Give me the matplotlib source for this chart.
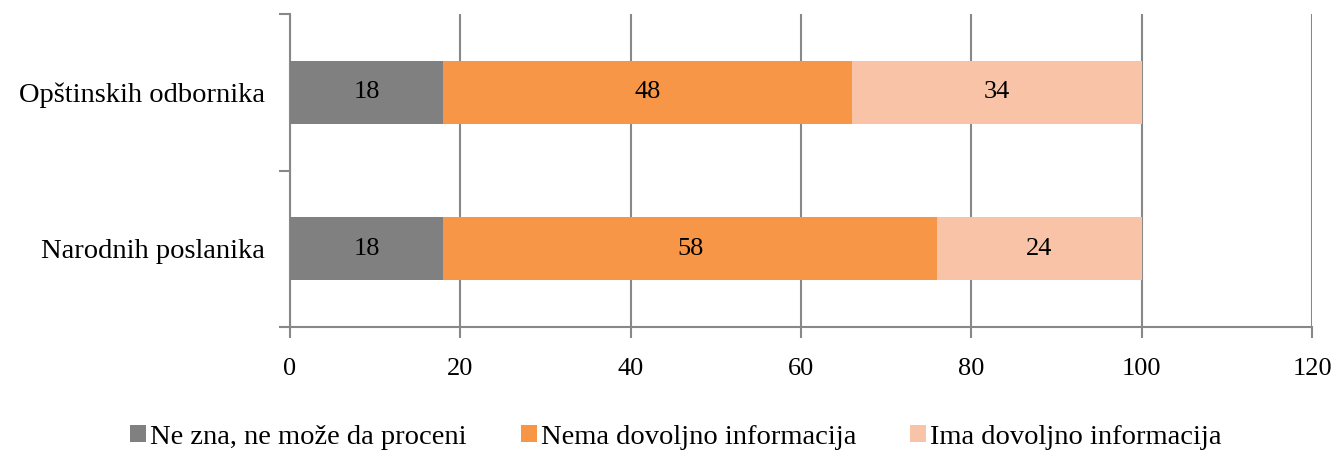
import matplotlib
matplotlib.use("Agg")
import matplotlib.pyplot as plt
import numpy as np

plt.rcParams['font.family'] = ['Liberation Serif', 'DejaVu Serif']

categories = ["Narodnih poslanika", "Opštinskih odbornika"]
series_names = ["Ne zna, ne može da proceni", "Nema dovoljno informacija", "Ima dovoljno informacija"]
ne_zna = [18, 18]
nema = [58, 48]
ima = [24, 34]
colors = ["#808080", "#F79646", "#F9C3A7"]
xticks = [0, 20, 40, 60, 80, 100, 120]

fig = plt.figure(figsize=(13.31, 4.5), dpi=100)
ax = fig.add_axes([290/1331, 1-327/450, (1312-290)/1331, (327-14)/450])

y = np.arange(len(categories))
left = np.zeros(len(categories))
for vals, name, c in zip([ne_zna, nema, ima], series_names, colors):
    bars = ax.barh(y, vals, left=left, height=0.4, color=c, label=name, zorder=3)
    for b, v in zip(bars, vals):
        ax.text(b.get_x() + b.get_width()/2, b.get_y() + b.get_height()/2, str(v),
                ha='center', va='center', fontsize=19, color='black', zorder=4)
    left = left + np.array(vals)

ax.set_xlim(0, 120)
ax.set_ylim(-0.5, 1.5)
ax.set_xticks(xticks)
ax.set_xticklabels([str(t) for t in xticks], fontsize=19)
ax.set_yticks(y)
ax.set_yticklabels(categories, fontsize=20.5)
ax.set_yticks([-0.5, 0.5, 1.5], minor=True)
ax.tick_params(axis='y', which='major', length=0, pad=18)
ax.tick_params(axis='y', which='minor', length=8, color='#888888', width=1.5, direction='out')
ax.tick_params(axis='x', which='major', length=8, color='#888888', width=1.5, direction='out', pad=14)
ax.grid(axis='x', color='#888888', linewidth=1.5, zorder=0)
for s in ['top', 'right']:
    ax.spines[s].set_visible(False)
for s in ['left', 'bottom']:
    ax.spines[s].set_color('#888888')
    ax.spines[s].set_linewidth(1.5)

leg = fig.legend(loc='center', bbox_to_anchor=(676/1331, 1-437/450), ncol=3, frameon=False,
                 fontsize=20.5, handlelength=0.55, handleheight=0.55, handletextpad=0.15,
                 columnspacing=1.9)

fig.savefig("out.png", dpi=100)
